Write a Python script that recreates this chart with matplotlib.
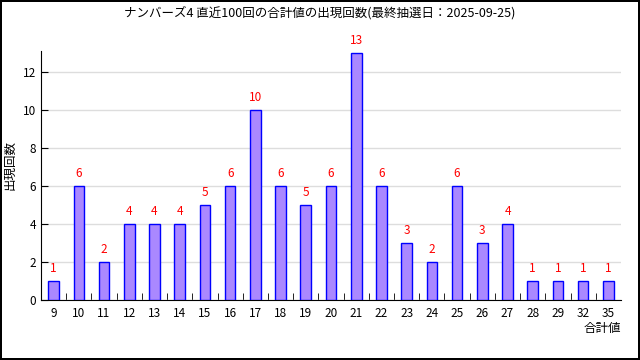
import matplotlib
matplotlib.use('Agg')
import matplotlib.pyplot as plt
import numpy as np

plt.rcParams['font.family'] = ['Noto Sans CJK JP', 'DejaVu Sans']

# 合計値と出現回数
sums = ['9', '10', '11', '12', '13', '14', '15', '16', '17', '18', '19', '20',
        '21', '22', '23', '24', '25', '26', '27', '28', '29', '32', '35']
counts = [1, 6, 2, 4, 4, 4, 5, 6, 10, 6, 5, 6, 13, 6, 3, 2, 6, 3, 4, 1, 1, 1, 1]

fig = plt.figure(figsize=(6.4, 3.6), dpi=100)
fig.patch.set_edgecolor('black')
fig.patch.set_linewidth(1.5)
ax = fig.add_axes([41 / 640, 60 / 360, 580 / 640, 249 / 360])

x = np.arange(len(sums))
ax.bar(x, counts, width=0.42, color='#aa88ff', edgecolor='#0000ff', linewidth=1, zorder=3)
for xi, c in zip(x, counts):
    ax.annotate(str(c), (xi, c), xytext=(0, 4), textcoords='offset points',
                ha='center', va='bottom', color='red', fontsize=8.5)

ax.set_xlim(-0.5, len(sums) - 0.5)
ax.set_ylim(0, 13.1)
ax.set_yticks(range(0, 13, 2))
ax.set_xticks(x)
ax.set_xticklabels(sums)
ax.set_xticks(np.arange(0.5, len(sums) - 0.5, 1), minor=True)
ax.tick_params(axis='x', which='major', length=0, labelsize=8.5, pad=5)
ax.tick_params(axis='x', which='minor', direction='in', length=5, color='black')
ax.tick_params(axis='y', direction='in', length=5, labelsize=8.5)
ax.yaxis.grid(True, color='#dddddd', linewidth=1, zorder=0)
for s in ['top', 'right']:
    ax.spines[s].set_visible(False)

fig.text(10 / 640, 1 - 165 / 360, '出現回数', rotation=90, ha='center', va='center', fontsize=9)
ax.text(1.0, -0.09, '合計値', transform=ax.transAxes, ha='right', va='top', fontsize=9)
fig.text(0.5, 0.965, 'ナンバーズ4 直近100回の合計値の出現回数(最終抽選日：2025-09-25)',
         ha='center', va='center', fontsize=9)

fig.savefig('out.png', dpi=100, facecolor='white', edgecolor='black')
